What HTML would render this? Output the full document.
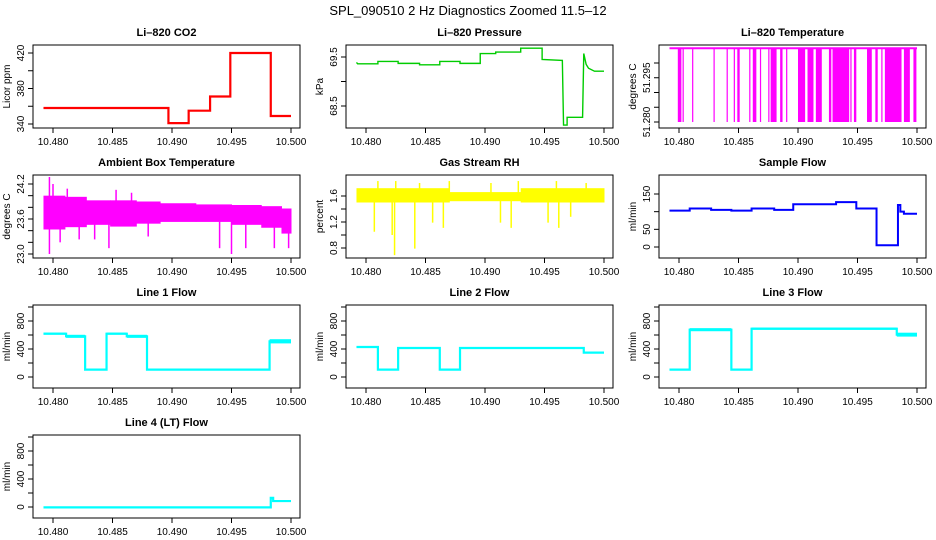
<!DOCTYPE html>
<html><head><meta charset="utf-8"><style>
body{margin:0;background:#fff;}
svg{display:block;font-family:"Liberation Sans",sans-serif;}
</style></head><body>
<svg id="chart" width="936" height="540" viewBox="0 0 936 540" xmlns="http://www.w3.org/2000/svg">
<rect x="0" y="0" width="936" height="540" fill="#fff"/>
<text x="468" y="15" font-size="13" text-anchor="middle">SPL_090510  2 Hz Diagnostics Zoomed 11.5–12</text>
</svg>
<script>
// ---- data ----
const xTicks = [10.480, 10.485, 10.490, 10.495, 10.500];
const xTickLabels = ["10.480", "10.485", "10.490", "10.495", "10.500"];
// CO2 steps
const co2T = [10.4792, 10.4897, 10.4914, 10.4932, 10.4949, 10.4983, 10.5];
const co2V = [358, 341, 355, 371, 420, 349];
// Pressure polyline
const presT = [10.4792,10.4793,10.4810,10.4810,10.4827,10.4827,10.4845,10.4845,10.4862,10.4862,10.4879,10.4879,10.4896,10.4896,10.4909,10.4909,10.4930,10.4930,10.4948,10.4948,10.4965,10.4966,10.4969,10.4969,10.4982,10.4983,10.4985,10.4987,10.4992,10.5];
const presV = [69.39,69.36,69.36,69.41,69.41,69.37,69.37,69.34,69.34,69.41,69.41,69.37,69.37,69.57,69.57,69.60,69.60,69.68,69.68,69.45,69.43,68.11,68.11,68.27,68.27,69.57,69.35,69.27,69.21,69.21];
// Li-820 temperature: baseline and drop intervals
const tempTop = 51.305, tempBottom = 51.280;
const tempDropStart = [10.4799,10.4803,10.4811,10.4829,10.4840,10.4846,10.4849,10.4859,10.4862,10.4868,10.4875,10.4877,10.4885,10.4890,10.4900,10.4908,10.4915,10.4926,10.4929,10.4944,10.4947,10.4958,10.4965,10.4970,10.4973,10.4989,10.4997];
const tempDropEnd   = [10.4802,10.4804,10.4812,10.48295,10.4841,10.48465,10.4851,10.48595,10.4865,10.4869,10.48755,10.4882,10.4887,10.4891,10.4906,10.4913,10.4920,10.4928,10.4943,10.4945,10.4949,10.4962,10.4967,10.4971,10.4987,10.4994,10.49995];
// Ambient box temperature band
const ambT  = [10.4792,10.4810,10.4828,10.4848,10.4870,10.4890,10.4920,10.4950,10.4975,10.4992,10.5];
const ambLo = [23.42,23.46,23.50,23.47,23.52,23.55,23.55,23.50,23.45,23.35];
const ambHi = [24.00,23.98,23.92,23.92,23.90,23.87,23.85,23.84,23.82,23.78];
const ambSpikeT = [10.4797,10.4797,10.4800,10.4806,10.4822,10.4847,10.4853,10.4940,10.4950,10.4962,10.4986,10.4998,10.4812,10.4835,10.4866,10.4880];
const ambSpikeV = [24.32,23.00,24.20,23.20,23.25,23.10,24.10,23.10,23.00,23.10,23.10,23.10,24.12,23.25,24.05,23.30];
// Gas stream RH band
const rhT  = [10.4792,10.4870,10.4930,10.5];
const rhLo = [1.50,1.52,1.50];
const rhHi = [1.72,1.66,1.72];
const rhSpikeT = [10.4807,10.4822,10.4824,10.4841,10.4856,10.4865,10.4913,10.4922,10.4953,10.4962,10.4972,10.4810,10.4825,10.4845,10.4870,10.4905,10.4928,10.4960,10.4985];
const rhSpikeV = [1.05,1.00,0.69,0.79,1.19,1.11,1.19,1.11,1.19,1.11,1.28,1.83,1.83,1.80,1.83,1.80,1.83,1.83,1.80];
// Sample flow steps
const sfT = [10.4792,10.4809,10.4827,10.4844,10.4861,10.4880,10.4896,10.4932,10.4949,10.4966,10.4984,10.4986,10.4989,10.5];
const sfV = [103,109,105,103,109,105,121,127,109,5,119,100,94];
// Line flows (steps + noise half-width)
const l1T = [10.4792,10.4811,10.4827,10.4845,10.4862,10.4879,10.4982,10.5];
const l1V = [619,581,105,619,581,105,510];
const l1W = [15,22,0,15,22,0,30];
const l2T = [10.4792,10.4810,10.4827,10.4862,10.4879,10.4983,10.5];
const l2V = [429,105,414,105,414,348];
const l2W = [8,0,10,0,8,12];
const l3T = [10.4792,10.4809,10.4844,10.4861,10.4983,10.5];
const l3V = [105,676,105,690,605];
const l3W = [0,22,0,16,28];
const l4T = [10.4792,10.4983,10.4985,10.5];
const l4V = [-5,130,85];
const l4W = [0,0,5];

// ---- drawing ----
const svg = document.getElementById('chart');
const NS = 'http://www.w3.org/2000/svg';
function mk(tag, attrs, parent){ const e=document.createElementNS(NS,tag); for(const k in attrs) e.setAttribute(k,attrs[k]); (parent||svg).appendChild(e); return e; }

function panel(col,row,title,ylab,ymap,yTicks,yLabels,slug){
  const bx = 33 + col*313, by = 45 + row*130, bw = 267, bh = 83;
  const g = mk('g',{});
  
  
  const X = t => bx + 20 + (t-10.48)/0.02*238;
  const Y = v => by - 45 + ymap[1] + (v-ymap[0])/(ymap[2]-ymap[0])*(ymap[3]-ymap[1]);
  const tt = mk('text',{x:bx+bw/2,y:by-9,'font-size':11,'font-weight':'bold','text-anchor':'middle'},g);
  tt.textContent = title;
  
  
  const xa = mk('g',{},g);
  
  
  xTicks.forEach((t,i)=>{
    mk('line',{x1:X(t),x2:X(t),y1:by+bh,y2:by+bh+5,stroke:'#000'},xa);
    const l = mk('text',{x:X(t),y:by+bh+17,'font-size':10,'text-anchor':'middle'},xa);
    l.textContent = xTickLabels[i];
  });
  const ya = mk('g',{},g);
  
  
  yTicks.forEach(v=>{ mk('line',{x1:bx-5,x2:bx,y1:Y(v),y2:Y(v),stroke:'#000'},ya); });
  yLabels.forEach(s=>{
    const y=Y(parseFloat(s));
    const l = mk('text',{x:0,y:0,'font-size':10,'text-anchor':'middle',transform:`translate(${bx-9},${y}) rotate(-90)`},ya);
    l.textContent = s;
  });
  const yt = mk('text',{x:0,y:0,'font-size':10,'text-anchor':'middle',transform:`translate(${bx-23},${by+bh/2}) rotate(-90)`},g);
  yt.textContent = ylab;
  
  
  const clipId='c'+slug;
  const cp = mk('clipPath',{id:clipId},g); mk('rect',{x:bx,y:by,width:bw,height:bh},cp);
  const plot = mk('g',{'clip-path':`url(#${clipId})`},g);
  const box = mk('rect',{x:bx,y:by,width:bw,height:bh,fill:'none',stroke:'#000'},g);
  
  
  return {X,Y,plot};
}

function steps(p,T,V,W,color,slug,lw){
  let d='';
  V.forEach((v,i)=>{ d += (i? 'L':'M') + p.X(T[i]) + ',' + p.Y(v) + 'L' + p.X(T[i+1]) + ',' + p.Y(v); });
  if(W) V.forEach((v,i)=>{ if(W[i]>0){ const r=mk('rect',{x:p.X(T[i]),y:p.Y(v+W[i]),width:p.X(T[i+1])-p.X(T[i]),height:Math.abs(p.Y(v-W[i])-p.Y(v+W[i])),fill:color},p.plot);
    
     }});
  const path=mk('path',{d,fill:'none',stroke:color,'stroke-width':lw||2.2},p.plot);
  
  
}
function band(p,T,Lo,Hi,color,slug){
  Lo.forEach((lo,i)=>{ const r=mk('rect',{x:p.X(T[i]),y:p.Y(Hi[i]),width:p.X(T[i+1])-p.X(T[i])+0.5,height:p.Y(lo)-p.Y(Hi[i]),fill:color},p.plot);
    
     });
}
function spikes(p,T,V,base,color,slug){
  T.forEach((t,i)=>{ const l=mk('line',{x1:p.X(t),x2:p.X(t),y1:p.Y(base[i]),y2:p.Y(V[i]),stroke:color,'stroke-width':1.5},p.plot);
    
     });
}

// CO2
let p = panel(0,0,'Li–820 CO2','Licor ppm',[420,53,340,124],[340,360,380,400,420],['340','380','420'],'co2');
steps(p,co2T,co2V,null,'#ff0000','co2',2.2);
// Pressure
p = panel(1,0,'Li–820 Pressure','kPa',[69.5,57,68.5,106],[68.5,69.0,69.5],['68.5','69.5'],'pressure');
{ const d = presT.map((t,i)=>(i?'L':'M')+p.X(t)+','+p.Y(presV[i])).join('');
  const l=mk('path',{d,fill:'none',stroke:'#00cc00','stroke-width':1.4},p.plot);
  
   }
// Li-820 temp
p = panel(2,0,'Li–820 Temperature','degrees C',[51.28,122,51.30,63],[51.28,51.285,51.29,51.295,51.30],['51.280','51.295'],'li820-temp');
{ const l=mk('line',{x1:p.X(10.4792),x2:p.X(10.5),y1:p.Y(tempTop),y2:p.Y(tempTop),stroke:'#ff00ff','stroke-width':2},p.plot);
  
  
  tempDropStart.forEach((t,i)=>{ const r=mk('rect',{x:p.X(t),y:p.Y(tempTop),width:Math.max(1.2,p.X(tempDropEnd[i])-p.X(t)),height:p.Y(tempBottom)-p.Y(tempTop),fill:'#ff00ff'},p.plot);
    
     }); }
// Ambient
p = panel(0,1,'Ambient Box Temperature','degrees C',[24.2,54,23.0,124],[23.0,23.2,23.4,23.6,23.8,24.0,24.2],['23.0','23.6','24.2'],'ambient');
band(p,ambT,ambLo,ambHi,'#ff00ff','ambient');
spikes(p,ambSpikeT,ambSpikeV,ambSpikeV.map(v=>23.7),'#ff00ff','ambient');
// RH
p = panel(1,1,'Gas Stream RH','percent',[1.6,66,0.8,118],[0.8,1.0,1.2,1.4,1.6],['0.8','1.2','1.6'],'rh');
band(p,rhT,rhLo,rhHi,'#ffff00','rh');
spikes(p,rhSpikeT,rhSpikeV,rhSpikeV.map(v=>1.6),'#ffff00','rh');
// Sample flow
p = panel(2,1,'Sample Flow','ml/min',[0,117,150,64],[0,50,100,150],['0','50','150'],'sample-flow');
steps(p,sfT,sfV,null,'#0000ff','sample-flow',2);
// Line flows
const fm=[0,117,800,61], ft=[0,200,400,600,800,1000], fl=['0','400','800'];
p = panel(0,2,'Line 1 Flow','ml/min',fm,ft,fl,'line1'); steps(p,l1T,l1V,l1W,'#00ffff','line1');
p = panel(1,2,'Line 2 Flow','ml/min',fm,ft,fl,'line2'); steps(p,l2T,l2V,l2W,'#00ffff','line2');
p = panel(2,2,'Line 3 Flow','ml/min',fm,ft,fl,'line3'); steps(p,l3T,l3V,l3W,'#00ffff','line3');
p = panel(0,3,'Line 4 (LT) Flow','ml/min',fm,ft,fl,'line4'); steps(p,l4T,l4V,l4W,'#00ffff','line4');
</script>
</body></html>
